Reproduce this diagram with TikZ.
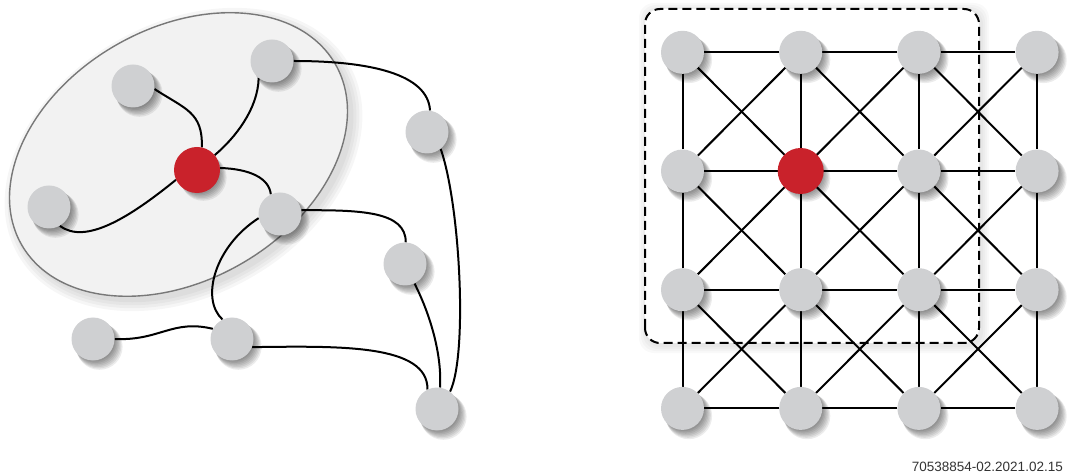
\documentclass[tikz,border=0pt]{standalone}
\usepackage{fontspec}
\newfontfamily\stampfont{Liberation Sans}
\definecolor{nodegray}{HTML}{CFD0D2}
\definecolor{nodered}{HTML}{C9222B}
\definecolor{ellfill}{HTML}{F2F2F2}
\definecolor{ellline}{HTML}{787878}
\definecolor{stampcol}{HTML}{333333}
\begin{document}
\begin{tikzpicture}[x=1pt,y=1pt,
  spot/.style={circle, minimum size=43pt, inner sep=0pt},
  hubspot/.style={circle, minimum size=46pt, inner sep=0pt},
  vert/.style={spot, fill=nodegray},
  hub/.style={hubspot, fill=nodered},
  shade/.style={fill=black, opacity=0.075},
  link/.style={line width=2pt, black},
  zone/.style={fill=ellfill, draw=ellline, line width=1.4pt},
  dashbox/.style={draw=black, line width=2pt, dash pattern=on 9pt off 5pt, rounded corners=15pt},
]
\useasboundingbox (0,0) rectangle (1070,474);

% ---------------- backgrounds ----------------
\foreach \g in {8,6,4,2}{
  \fill[black, opacity=0.025, rounded corners=15pt] (645-\g+2,131-\g-2) rectangle (979+\g+2,465+\g-2);
}
\fill[white, rounded corners=15pt] (645,131) rectangle (979,465);

\foreach \g in {10,7,4,1}{
  \fill[black, opacity=0.035, rotate around={30:(183.5,314.5)}] (183.5,314.5) ellipse [x radius=181+\g, y radius=126+\g];
}
\draw[zone, rotate around={30:(178.5,319.5)}] (178.5,319.5) ellipse [x radius=181, y radius=126];

% ---------------- left graph: node places ----------------
\node[spot]    (A) at (133,388) {};
\node[spot]    (B) at (272,413) {};
\node[spot]    (C) at (427,342) {};
\node[spot]    (D) at (49,267) {};
\node[hubspot] (R) at (197,304) {};
\node[spot]    (E) at (280,260) {};
\node[spot]    (F) at (405,210) {};
\node[spot]    (G) at (93,135) {};
\node[spot]    (H) at (232,135) {};
\node[spot]    (I) at (437,65) {};

\draw[link] (A.-8) .. controls (185,365) and (203,362) .. (R.78);
\draw[link] (B.-128) .. controls (258,365) and (235,336) .. (R.40);
\draw[link] (D.-60) .. controls (85,229) and (129,256) .. (R.205);
\draw[link] (R.5) .. controls (250,305) and (269,296) .. (E.115);
\draw[link] (B.0) .. controls (370,413) and (428,400) .. (C.82);
\draw[link] (E.10) .. controls (360,264) and (406,263) .. (F.88);
\draw[link] (E.191) .. controls (215,228) and (200,175) .. (H.116);
\draw[link] (G.0) .. controls (160,133) and (172,155) .. (H.152);
\draw[link] (H.-22) .. controls (340,128) and (428,130) .. (I.116);
\draw[link] (F.-64) .. controls (430,160) and (442,120) .. (I.82);
\draw[link] (C.-51) .. controls (460,270) and (468,120) .. (I.53);

% ---------------- right grid: node places ----------------
\foreach \i in {0,1,2,3}{
  \foreach \j in {0,1,2,3}{
    \node[spot] (g-\i-\j) at ({682.5+118.2*\i},{421.7-118.7*\j}) {};
  }
}
\foreach \i [evaluate=\i as \ni using {int(\i+1)}] in {0,1,2}{
  \foreach \j in {0,1,2,3}{
    \draw[link] (g-\i-\j) -- (g-\ni-\j);
    \draw[link] (g-\j-\i) -- (g-\j-\ni);
  }
  \foreach \j [evaluate=\j as \nj using {int(\j+1)}] in {0,1,2}{
    \draw[link] (g-\i-\j) -- (g-\ni-\nj);
    \draw[link] (g-\ni-\j) -- (g-\i-\nj);
  }
}
\draw[dashbox] (645,131) rectangle (979,465);

% ---------------- shadows ----------------
\foreach \n in {A,B,C,D,R,E,F,G,H,I,g-0-0,g-1-0,g-2-0,g-3-0,g-0-1,g-1-1,g-2-1,g-3-1,g-0-2,g-1-2,g-2-2,g-3-2,g-0-3,g-1-3,g-2-3,g-3-3}{
  \foreach \k in {1,...,8}{
    \fill[shade] ([xshift=0.8*\k pt,yshift=-0.95*\k pt]\n.center) circle ({20+0.4*\k});
  }
}

% ---------------- visible nodes ----------------
\node[vert] (Av) at (A) {};
\node[vert] (Bv) at (B) {};
\node[vert] (Cv) at (C) {};
\node[vert] (Dv) at (D) {};
\node[hub]  (Rv) at (R) {};
\node[vert] (Ev) at (E) {};
\node[vert] (Fv) at (F) {};
\node[vert] (Gv) at (G) {};
\node[vert] (Hv) at (H) {};
\node[vert] (Iv) at (I) {};
\foreach \i in {0,1,2,3}{
  \foreach \j in {0,1,2,3}{
    \node[vert] (gv-\i-\j) at (g-\i-\j) {};
  }
}
\node[hub] (gr-1-1) at (g-1-1) {};

\node[anchor=base east, inner sep=0pt, text=stampcol,
  font=\stampfont\fontsize{13.5}{16}\selectfont] (stamp) at (1063,2.5) {70538854-02.2021.02.15};
\end{tikzpicture}
\end{document}
